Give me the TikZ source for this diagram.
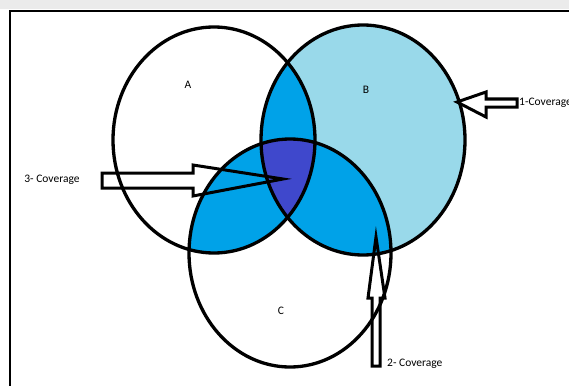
\documentclass[tikz,border=0pt]{standalone}
\usepackage{fontspec}
\setmainfont{Carlito}
\usepackage{xcolor}
\usetikzlibrary{positioning,calc}

\definecolor{paleturq}{HTML}{99D9EA}
\definecolor{turq}{HTML}{00A2E8}
\definecolor{indigo}{HTML}{3F48CC}

\tikzset{
  ring/.style={draw,line width=3.3pt},
  blockarrow/.style={draw,line width=3pt,line join=miter},
  setlabel/.style={font=\fontsize{11.5}{13}\selectfont,inner sep=0pt},
}

\newcommand{\setA}{(cA) ellipse [x radius=101,y radius=113]}
\newcommand{\setB}{(cB) ellipse [x radius=102,y radius=115]}
\newcommand{\setC}{(cC) ellipse [x radius=101,y radius=114]}

\begin{document}
\begin{tikzpicture}[x=1pt,y=-1pt]
\clip (0,0) rectangle (569,385);
% window frame
\fill[black!8] (0,0) rectangle (569,9);
\draw[line width=2.2pt] (10,392) -- (10,11) -- (575,11);

\coordinate (cA) at (214,140);
\coordinate (cB) at (363,140);
\coordinate (cC) at (290,253);

% coverage regions
\fill[paleturq] \setB;
\begin{scope}
  \clip \setA;
  \fill[turq] \setB;
  \fill[turq] \setC;
\end{scope}
\begin{scope}
  \clip \setB;
  \fill[turq] \setC;
  \clip \setA;
  \fill[indigo] \setC;
\end{scope}
\draw[ring] \setA;
\draw[ring] \setB;
\draw[ring] \setC;

\node[setlabel] (labA) at (188,85) {A};
\node[setlabel] (labB) at (366,90) {B};
\node[setlabel] (labC) at (281,311) {C};

% pointers
\coordinate (tip1) at (457,102);
\coordinate (tip2) at (376,237);
\coordinate (tip3) at (283,179);
\node[setlabel,anchor=west] (cov1) at (519,103) {1-Coverage};
\node[setlabel,anchor=west] (cov2) at (387,364) {2- Coverage};
\node[setlabel] (cov3) at (52,180) {3- Coverage};

\draw[blockarrow] (tip1) -- ++(29,-10) -- ++(0,7) -- ++(31,0) -- ++(0,8)
  -- ++(-31,0) -- ++(0,10) -- cycle;
\draw[blockarrow] (tip2) -- ++(-8,61) -- ++(4,0) -- ++(0,68) -- ++(8,0)
  -- ++(0,-68) -- ++(5,0) -- cycle;
\draw[blockarrow] (tip3) -- ++(-90,-14) -- ++(0,8) -- ++(-91,0) -- ++(0,15)
  -- ++(91,0) -- ++(0,8) -- cycle;
\end{tikzpicture}
\end{document}
